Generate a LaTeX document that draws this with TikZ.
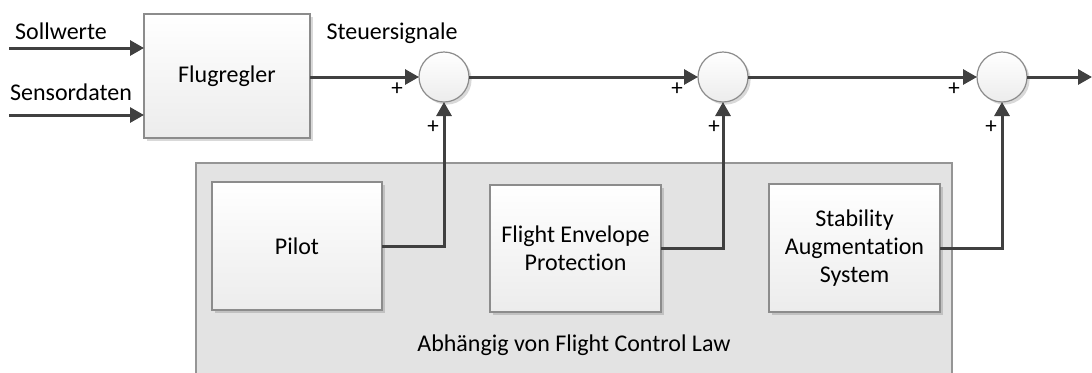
\documentclass[tikz,border=0pt]{standalone}
\usepackage{fontspec}
\setmainfont{Carlito}[Ligatures=NoCommon]
\usetikzlibrary{arrows.meta,shadows,calc}
\definecolor{wire}{HTML}{404040}
\definecolor{boxline}{HTML}{8C8C8C}
\definecolor{boxbot}{HTML}{ECECEC}
\definecolor{groupfill}{HTML}{E3E3E3}
\definecolor{groupline}{HTML}{959595}

\begin{document}
\begin{tikzpicture}[x=0.5pt,y=-0.5pt,
  font=\fontsize{12}{14.2}\selectfont,
  blk/.style={rectangle, draw=boxline, line width=0.6pt, top color=white,
    bottom color=boxbot, inner sep=0pt, outer sep=0pt, align=center,
    drop shadow={shadow xshift=1.3pt, shadow yshift=-1.3pt, opacity=0.15, fill=black}},
  sumnode/.style={circle, draw=boxline, line width=0.6pt, top color=white,
    bottom color=boxbot, minimum size=25pt, inner sep=0pt, outer sep=0pt,
    drop shadow={shadow xshift=1.3pt, shadow yshift=-1.3pt, opacity=0.15, fill=black}},
  arr/.style={draw=wire, line width=1.5pt, -{Triangle[length=7pt,width=7.5pt]}},
  sgn/.style={inner sep=0pt, font=\fontsize{11.5}{12}\selectfont}
]
\clip (0,0) rectangle (1092,372);
\useasboundingbox (0,0) rectangle (1092,372);

% group of flight-control-law dependent contributions
\node[rectangle, draw=groupline, line width=0.6pt, fill=groupfill, inner sep=0pt,
  outer sep=0pt, minimum width=378pt, minimum height=110pt, anchor=north west]
  (grp) at (196,163) {};
\node (lawtxt) at (574,345) {Abhängig von Flight Control Law};

% blocks
\node[blk, minimum width=83pt, minimum height=62pt] (fr) at (227,76) {Flugregler};
\node[blk, minimum width=85pt, minimum height=64pt] (pilot) at (297,246) {Pilot};
\node[blk, minimum width=85.5pt, minimum height=63.5pt] (fep) at (575.5,248.5) {Flight Envelope\\Protection};
\node[blk, minimum width=85.5pt, minimum height=64pt] (sas) at (854.5,248) {Stability\\Augmentation\\System};

% summing points
\node[sumnode] (s1) at (444,77) {};
\node[sumnode] (s2) at (723,77) {};
\node[sumnode] (s3) at (1002,77) {};

% inputs and output
\coordinate (in1) at (9,48);
\coordinate (in2) at (9,115);
\coordinate (out) at (1092,77);

\node[anchor=base] (tsoll) at (61,39) {Sollwerte};
\node[anchor=base] (tsens) at (71,100) {Sensordaten};
\node[anchor=base] (tsteuer) at (392,39) {Steuersignale};

% signal paths
\draw[arr] (in1) -- (in1 -| fr.west);
\draw[arr] (in2) -- (in2 -| fr.west);
\draw[arr] (fr.east |- s1.west) -- (s1.west);
\draw[arr] (s1.east) -- (s2.west);
\draw[arr] (s2.east) -- (s3.west);
\draw[arr] (s3.east) -- (out);
\draw[arr] (pilot.east) -| (s1.south);
\draw[arr] (fep.east) -| (s2.south);
\draw[arr] (sas.east) -| (s3.south);

% signs
\node[sgn] (p1a) at (397,89) {+};
\node[sgn] (p1b) at (433,127) {+};
\node[sgn] (p2a) at (677,89) {+};
\node[sgn] (p2b) at (714,127) {+};
\node[sgn] (p3a) at (954,89) {+};
\node[sgn] (p3b) at (991,127) {+};
\end{tikzpicture}
\end{document}
